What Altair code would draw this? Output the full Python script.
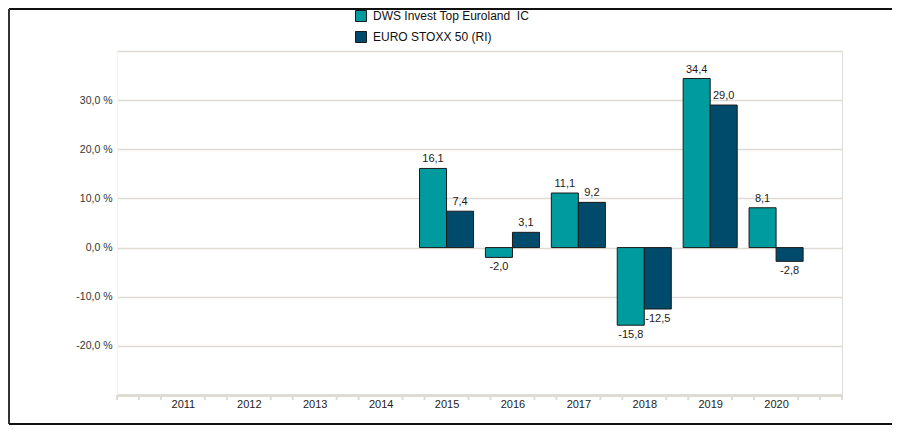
import altair as alt
import pandas as pd

years = [2015, 2016, 2017, 2018, 2019, 2020]
fund_name = "DWS Invest Top Euroland\u00a0 IC"
bench_name = "EURO STOXX 50 (RI)"
fund_values = [16.1, -2.0, 11.1, -15.8, 34.4, 8.1]
bench_values = [7.4, 3.1, 9.2, -12.5, 29.0, -2.8]

series_names = [fund_name, bench_name]
series_colors = ["#009b9e", "#004a6b"]

y_ticks = [-30, -20, -10, 0, 10, 20, 30, 40]
label_years = list(range(2011, 2021))
minor_ticks = [round(2010 + k / 3, 4) for k in range(34) if k % 3 != 0 or k in (0, 33)]

rows = []
for y, f, b in zip(years, fund_values, bench_values):
    rows.append({"year": y, "series": fund_name, "value": f, "side": -1})
    rows.append({"year": y, "series": bench_name, "value": b, "side": 0})
df = pd.DataFrame(rows)

W, H = 725, 344
PL, PT, PR, PB = 109, 43, 50, 30
FONT = "Liberation Sans"
BW = 0.41
AXIS_COLOR = "#dedbd3"

base = alt.Chart(df).transform_calculate(
    x0=f"datum.year + datum.side * {BW}",
    x1=f"datum.year + (datum.side + 1) * {BW}",
    xm=f"datum.year + (datum.side + 0.5) * {BW}",
    lab="(datum.value < 0 ? '-' : '') + replace(format(abs(datum.value), '.1f'), '.', ',')",
)

xscale = alt.Scale(domain=[2010, 2021], nice=False, zero=False)
yscale = alt.Scale(domain=[-30, 40], nice=False, zero=False)

xaxis = alt.Axis(
    values=label_years,
    title=None,
    grid=False,
    format="d",
    labelOverlap=False,
    labelFlush=False,
    labelBound=False,
    ticks=False,
    domainColor=AXIS_COLOR,
    domainWidth=3,
    labelPadding=3,
    labelFontSize=11,
    labelColor="#222222",
    labelFont=FONT,
)
yaxis = alt.Axis(
    values=y_ticks,
    title=None,
    labelExpr="(datum.value > -30 && datum.value < 40) ? datum.value + ',0 %' : ''",
    ticks=False,
    domainColor="#f3f3f3",
    gridColor="#dedbd5",
    gridWidth=1.5,
    labelPadding=5,
    labelFontSize=10.5,
    labelColor="#333333",
    labelFont=FONT,
)

bars = base.mark_bar(stroke="#1a1a1a", strokeWidth=1).encode(
    x=alt.X("x0:Q", scale=xscale, axis=xaxis),
    x2="x1:Q",
    y=alt.Y("value:Q", scale=yscale, axis=yaxis),
    y2=alt.datum(0),
    color=alt.Color(
        "series:N",
        scale=alt.Scale(domain=series_names, range=series_colors),
        legend=alt.Legend(
            title=None,
            orient="none",
            legendX=238,
            legendY=-41,
            direction="vertical",
            symbolType="square",
            symbolSize=121,
            symbolStrokeColor="#1a1a1a",
            symbolStrokeWidth=1,
            labelFontSize=12,
            labelFont=FONT,
            labelColor="#111111",
            labelOffset=6,
            rowPadding=5,
        ),
    ),
)

pos_text = base.transform_filter("datum.value >= 0").mark_text(
    baseline="bottom", dy=-4, fontSize=11, font=FONT, color="#1a1a1a"
).encode(x=alt.X("xm:Q", scale=xscale), y=alt.Y("value:Q", scale=yscale), text="lab:N")

neg_text = base.transform_filter("datum.value < 0").mark_text(
    baseline="top", dy=4, fontSize=11, font=FONT, color="#1a1a1a"
).encode(x=alt.X("xm:Q", scale=xscale), y=alt.Y("value:Q", scale=yscale), text="lab:N")

ticks = alt.Chart(pd.DataFrame({"t": minor_ticks})).mark_rule(
    color=AXIS_COLOR, strokeWidth=2
).encode(x=alt.X("t:Q", scale=xscale), y=alt.value(H), y2=alt.value(H + 5))

dummy = pd.DataFrame({"a": [0]})
frame_top = alt.Chart(dummy).mark_rule(color="#111111", strokeWidth=2).encode(
    x=alt.value(-PL + 1), x2=alt.value(W + PR), y=alt.value(-PT + 1)
)
frame_left = alt.Chart(dummy).mark_rule(color="#333333", strokeWidth=2).encode(
    x=alt.value(-PL + 1), y=alt.value(-PT + 1), y2=alt.value(H + PB - 1)
)
frame_bottom = alt.Chart(dummy).mark_rule(color="#111111", strokeWidth=2).encode(
    x=alt.value(-PL + 1), x2=alt.value(W + PR), y=alt.value(H + PB - 1)
)

chart = alt.layer(bars, pos_text, neg_text, ticks, frame_top, frame_left, frame_bottom).properties(
    width=W,
    height=H,
    autosize=alt.AutoSizeParams(type="none"),
    padding={"left": PL, "top": PT, "right": PR, "bottom": PB},
).configure_view(stroke=None).configure(background="white")

chart.save("out.html", embed_options={"renderer": "svg", "actions": False})
